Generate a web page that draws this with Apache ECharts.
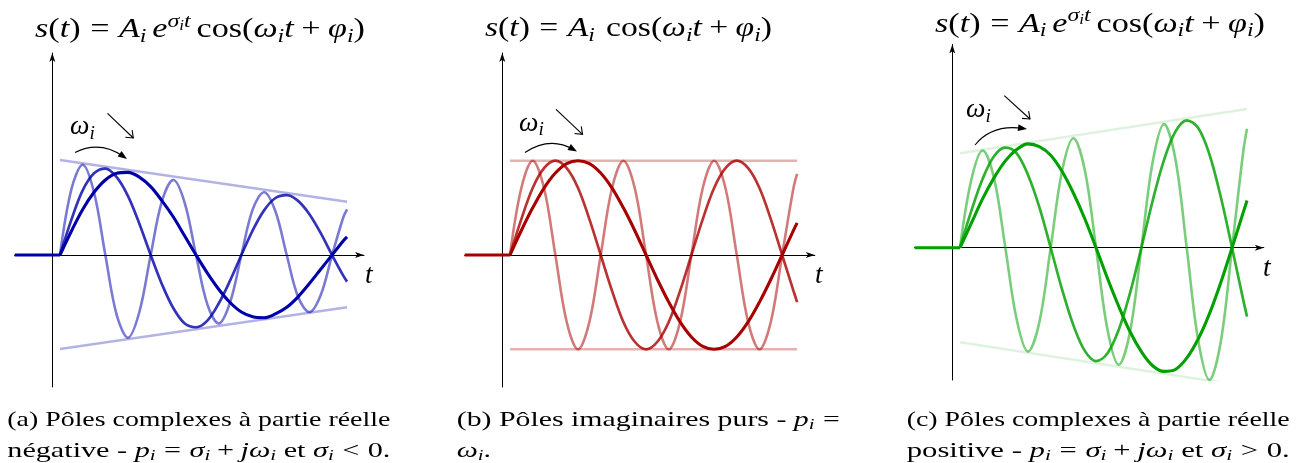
<!DOCTYPE html>
<html>
<head>
<meta charset="utf-8">
<script src="https://cdn.jsdelivr.net/npm/echarts@6.0.0/dist/echarts.min.js"></script>
<style>
  html, body { margin: 0; padding: 0; background: #fff; }
  #chart { width: 1305px; height: 463px; }
</style>
</head>
<body>
<div id="chart"></div>
<script>
// ---- Time samples (t = 1 is one period of the fastest mode) ----
const T = [0, 0.125, 0.25, 0.375, 0.5, 0.625, 0.75, 0.875, 1, 1.125, 1.25, 1.375, 1.5, 1.625,
           1.75, 1.875, 2, 2.125, 2.25, 2.375, 2.5, 2.625, 2.75, 2.875, 3, 3.125, 3.165];
const T_PRE = [-0.5, 0];          // signal is zero before t = 0
const S_PRE = [0, 0];
const T_ENV = [0, 3.165];         // envelope end points

// ---- (a) damped modes, sigma < 0 ----
const A_FAST = [0, .69, .95, .66, 0, -.63, -.87, -.60, 0, .57, .79, .55, 0, -.52, -.72, -.50,
                0, .48, .66, .46, 0, -.44, -.60, -.42, 0, .40, .48];
const A_MID  = [0, .37, .68, .86, .91, .82, .62, .33, 0, -.31, -.56, -.72, -.76, -.69, -.51, -.27,
                0, .26, .47, .60, .63, .57, .43, .23, 0, -.22, -.28];
const A_SLOW = [0, .25, .48, .66, .79, .86, .87, .82, .72, .57, .40, .20, 0, -.19, -.36, -.50,
                -.60, -.65, -.66, -.62, -.55, -.44, -.30, -.15, 0, .15, .19];
const A_ENV_TOP = [1.00, 0.56];
const A_ENV_BOT = [-0.99, -0.55];

// ---- (b) undamped modes, sigma = 0 ----
const B_FAST = [0, .71, 1, .71, 0, -.71, -1, -.71, 0, .71, 1, .71, 0, -.71, -1, -.71,
                0, .71, 1, .71, 0, -.71, -1, -.71, 0, .71, .86];
const B_MID  = [0, .38, .71, .92, 1, .92, .71, .38, 0, -.38, -.71, -.92, -1, -.92, -.71, -.38,
                0, .38, .71, .92, 1, .92, .71, .38, 0, -.38, -.50];
const B_SLOW = [0, .26, .50, .71, .87, .97, 1, .97, .87, .71, .50, .26, 0, -.26, -.50, -.71,
                -.87, -.97, -1, -.97, -.87, -.71, -.50, -.26, 0, .26, .34];
const B_ENV_TOP = [1, 1];
const B_ENV_BOT = [-1, -1];

// ---- (c) growing modes, sigma > 0 ----
const C_FAST = [0, .72, 1.03, .74, 0, -.76, -1.10, -.79, 0, .81, 1.16, .83, 0, -.86, -1.24, -.89,
                0, .91, 1.31, .94, 0, -.97, -1.40, -1.00, 0, 1.03, 1.26];
const C_MID  = [0, .39, .73, .97, 1.06, 1.00, .77, .43, 0, -.44, -.82, -1.09, -1.20, -1.12, -.87, -.48,
                0, .50, .93, 1.23, 1.35, 1.27, .99, .54, 0, -.56, -.73];
const C_SLOW = [0, .26, .52, .74, .92, 1.04, 1.10, 1.07, .98, .81, .58, .31, 0, -.32, -.62, -.89,
                -1.10, -1.25, -1.31, -1.29, -1.17, -.97, -.70, -.37, 0, .38, .50];
const C_ENV_TOP = [1.00, 1.47];
const C_ENV_BOT = [-1.00, -1.47];

// ---- panel geometry and styling ----
// grid starts where the zero-signal segment starts (t = -0.5); the vertical axis is shifted
// right onto its own position with a negative offset
const PANELS = [
  { grid: { left: 14.65, top: 53, width: 349.35, height: 334 }, x: [-0.5, 3.352], y: [-1.389, 2.126], yOffset: -37.65,
    fast: A_FAST, mid: A_MID, slow: A_SLOW, envTop: A_ENV_TOP, envBot: A_ENV_BOT,
    dark: '#0000a8', medium: 'rgba(0,0,168,0.8)', light: 'rgba(0,0,168,0.52)', env: 'rgba(0,0,168,0.3)' },
  { grid: { left: 464.65, top: 53, width: 350.15, height: 334 }, x: [-0.5, 3.36], y: [-1.400, 2.142], yOffset: -37.65,
    fast: B_FAST, mid: B_MID, slow: B_SLOW, envTop: B_ENV_TOP, envBot: B_ENV_BOT,
    dark: '#a80000', medium: 'rgba(168,0,0,0.8)', light: 'rgba(168,0,0,0.52)', env: 'rgba(168,0,0,0.3)' },
  { grid: { left: 914.65, top: 44.5, width: 349.15, height: 335.5 }, x: [-0.5, 3.35], y: [-1.401, 2.153], yOffset: -37.65,
    fast: C_FAST, mid: C_MID, slow: C_SLOW, envTop: C_ENV_TOP, envBot: C_ENV_BOT,
    dark: '#00a000', medium: 'rgba(0,160,0,0.82)', light: 'rgba(0,160,0,0.52)', env: 'rgba(0,160,0,0.13)' }
];

const SMOOTH = 0.35;
const pairs = (ts, vs) => ts.map((t, i) => [t, vs[i]]);

const grids = [], xAxes = [], yAxes = [], series = [];
PANELS.forEach((p, i) => {
  grids.push(Object.assign({ outerBoundsMode: 'none', containLabel: false }, p.grid));
  const axisBase = {
    type: 'value', gridIndex: i,
    axisTick: { show: false }, axisLabel: { show: false }, splitLine: { show: false }
  };
  xAxes.push(Object.assign({}, axisBase, {
    min: p.x[0], max: p.x[1],
    axisLine: { show: true, onZero: true, symbol: ['none', 'arrow'], symbolSize: [4.5, 9],
                lineStyle: { color: '#000', width: 1 } }
  }));
  yAxes.push(Object.assign({}, axisBase, {
    min: p.y[0], max: p.y[1], position: 'left', offset: p.yOffset,
    axisLine: { show: true, onZero: false, symbol: ['none', 'arrow'], symbolSize: [4.5, 9],
                lineStyle: { color: '#000', width: 1 } }
  }));
  const base = { type: 'line', xAxisIndex: i, yAxisIndex: i, symbol: 'none', showSymbol: false,
                 silent: true, animation: false };
  series.push(
    Object.assign({}, base, { data: pairs(T_ENV, p.envTop), lineStyle: { color: p.env, width: 2.5 } }),
    Object.assign({}, base, { data: pairs(T_ENV, p.envBot), lineStyle: { color: p.env, width: 2.5 } }),
    Object.assign({}, base, { data: pairs(T, p.fast), smooth: SMOOTH, lineStyle: { color: p.light, width: 2.6 } }),
    Object.assign({}, base, { data: pairs(T, p.mid), smooth: SMOOTH, lineStyle: { color: p.medium, width: 2.7 } }),
    Object.assign({}, base, { data: pairs(T, p.slow), smooth: SMOOTH, lineStyle: { color: p.dark, width: 3.1 } }),
    Object.assign({}, base, { data: pairs(T_PRE, S_PRE), lineStyle: { color: p.dark, width: 3.1 } })
  );
});

// ---- math-style text laid out piece by piece ----
const SERIF = '"Liberation Serif", "Times New Roman", "Nimbus Roman", serif';
const meas = document.createElement('canvas').getContext('2d');
function fontFor(size, italic) { return (italic ? 'italic ' : '') + size.toFixed(2) + 'px ' + SERIF; }
function midToBaseline(font) {
  meas.font = font; meas.textBaseline = 'middle';
  return meas.measureText('H').actualBoundingBoxDescent;
}
// piece: [text, italic, level]  level 0 normal, 1 subscript, 2 superscript, 3 sub inside sup
// a bare number is a horizontal gap in em
function mathText(x, baseline, size, pieces, opts) {
  opts = opts || {};
  const children = [];
  let cx = 0;
  pieces.forEach(p => {
    if (typeof p === 'number') { cx += p * size; return; }
    const txt = p[0], it = !!p[1], lvl = p[2] || 0;
    const s = lvl === 0 ? size : (lvl === 3 ? size * 0.5 : size * 0.7);
    const dy = lvl === 1 ? 0.17 * size : lvl === 2 ? -0.38 * size : lvl === 3 ? -0.27 * size : 0;
    const font = fontFor(s, it);
    const off = midToBaseline(font);
    meas.font = font;
    const w = meas.measureText(txt).width;
    children.push({
      type: 'text', x: cx, y: dy - off, silent: true,
      style: { text: txt, font: font, fill: '#000', textAlign: 'left', textVerticalAlign: 'middle',
               align: 'left', verticalAlign: 'middle' }
    });
    cx += w;
  });
  const sx = opts.width ? opts.width / cx : (opts.scale || 1);
  return { type: 'group', x: x, y: baseline, scaleX: sx, silent: true, children: children, _sx: sx };
}

function curvedArrow(x1, y1, cx, cy, x2, y2) {
  let dx = x2 - cx, dy = y2 - cy; const L = Math.hypot(dx, dy); dx /= L; dy /= L;
  const len = 9, hw = 3.4;
  const bx = x2 - dx * len, by = y2 - dy * len;
  return [
    { type: 'bezierCurve', silent: true, shape: { x1: x1, y1: y1, cpx1: cx, cpy1: cy, x2: x2 - dx * 4, y2: y2 - dy * 4 },
      style: { stroke: '#000', lineWidth: 1.1, fill: null } },
    { type: 'polygon', silent: true,
      shape: { points: [[x2, y2], [bx - dy * hw, by + dx * hw], [bx + dy * hw, by - dx * hw]] },
      style: { fill: '#000' } }
  ];
}
function straightArrow(x1, y1, x2, y2) {
  let dx = x2 - x1, dy = y2 - y1; const L = Math.hypot(dx, dy); dx /= L; dy /= L;
  const len = 8, a = 38 * Math.PI / 180;
  const rot = (ang) => [x2 - len * (dx * Math.cos(ang) - dy * Math.sin(ang)),
                        y2 - len * (dx * Math.sin(ang) + dy * Math.cos(ang))];
  return [
    { type: 'line', silent: true, shape: { x1: x1, y1: y1, x2: x2, y2: y2 }, style: { stroke: '#000', lineWidth: 1.1 } },
    { type: 'polyline', silent: true, shape: { points: [rot(a), [x2, y2], rot(-a)] },
      style: { stroke: '#000', lineWidth: 1.1, fill: null } }
  ];
}

const TITLE_EXP = [['s', 1], ['(', 0], ['t', 1], [')', 0], .28, ['=', 0], .28, ['A', 1], ['i', 1, 1], .17,
  ['e', 1], ['σ', 1, 2], ['i', 1, 3], ['t', 1, 2], .17, ['cos', 0], ['(', 0], ['ω', 1], ['i', 1, 1], ['t', 1],
  .22, ['+', 0], .22, ['φ', 1], ['i', 1, 1], [')', 0]];
const TITLE_PURE = [['s', 1], ['(', 0], ['t', 1], [')', 0], .28, ['=', 0], .28, ['A', 1], ['i', 1, 1], .33,
  ['cos', 0], ['(', 0], ['ω', 1], ['i', 1, 1], ['t', 1], .22, ['+', 0], .22, ['φ', 1], ['i', 1, 1], [')', 0]];
const CAP_A1 = [['(a) Pôles complexes à partie réelle', 0]];
const CAP_A2 = [['négative - ', 0], ['p', 1], ['i', 1, 1], .28, ['=', 0], .28, ['σ', 1], ['i', 1, 1], .22, ['+', 0], .22,
  ['j', 1], ['ω', 1], ['i', 1, 1], [' et ', 0], ['σ', 1], ['i', 1, 1], .28, ['<', 0], .28, ['0.', 0]];
const CAP_B1 = [['(b) Pôles imaginaires purs - ', 0], ['p', 1], ['i', 1, 1], .28, ['=', 0]];
const CAP_B2 = [['ω', 1], ['i', 1, 1], ['.', 0]];
const CAP_C1 = [['(c) Pôles complexes à partie réelle', 0]];
const CAP_C2 = [['positive - ', 0], ['p', 1], ['i', 1, 1], .28, ['=', 0], .28, ['σ', 1], ['i', 1, 1], .22, ['+', 0], .22,
  ['j', 1], ['ω', 1], ['i', 1, 1], [' et ', 0], ['σ', 1], ['i', 1, 1], .28, ['>', 0], .28, ['0.', 0]];
const OMEGA = [['ω', 1], ['i', 1, 1]];
const TVAR = [['t', 1]];

const TS = 27.5, CS = 22;
const capB1 = mathText(456.7, 425.5, CS, CAP_B1, { width: 383 });
const graphics = [
  mathText(35, 37.3, TS, TITLE_EXP, { width: 330 }),
  mathText(485, 36, TS, TITLE_PURE, { width: 287 }),
  mathText(935, 31.7, TS, TITLE_EXP, { width: 330 }),
  mathText(7.3, 425.5, CS, CAP_A1, { width: 383 }),
  mathText(7.3, 456.5, CS, CAP_A2, { width: 383 }),
  capB1,
  mathText(456.7, 456.5, CS, CAP_B2, { scale: capB1._sx }),
  mathText(906.7, 425.5, CS, CAP_C1, { width: 383 }),
  mathText(906.7, 456.5, CS, CAP_C2, { width: 383 }),
  mathText(70, 134, 27.5, OMEGA), mathText(519, 130.7, 27.5, OMEGA), mathText(966, 117, 27.5, OMEGA),
  mathText(365, 283, 27.5, TVAR), mathText(815, 283, 27.5, TVAR), mathText(1263, 276, 27.5, TVAR),
  ...straightArrow(107.5, 113.3, 133.3, 138),
  ...straightArrow(556, 109.3, 582.5, 134.3),
  ...straightArrow(1004.3, 95.7, 1030, 119),
  ...curvedArrow(75, 152.5, 100, 140, 127, 159),
  ...curvedArrow(525, 152.5, 550, 136, 577, 151.5),
  ...curvedArrow(975, 145, 992, 124, 1027, 129)
];
graphics.forEach(g => { delete g._sx; });

const chart = echarts.init(document.getElementById('chart'), null, { renderer: 'canvas' });
chart.setOption({
  animation: false,
  backgroundColor: '#ffffff',
  grid: grids,
  xAxis: xAxes,
  yAxis: yAxes,
  series: series,
  graphic: { elements: graphics }
});
</script>
</body>
</html>
